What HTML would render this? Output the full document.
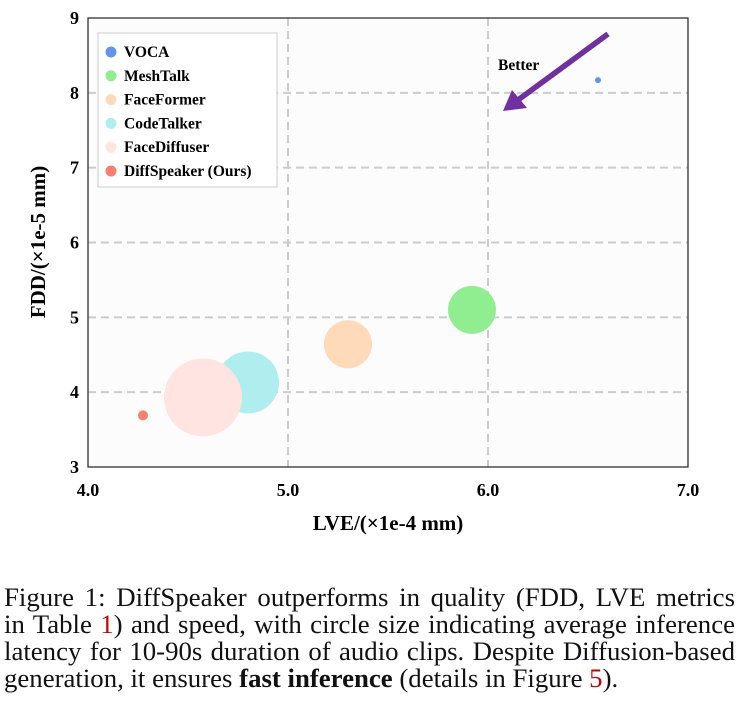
<!DOCTYPE html>
<html><head><meta charset="utf-8"><style>
body{margin:0;background:#fff;width:740px;height:703px;overflow:hidden;font-family:"Liberation Serif",serif}
#cap{position:absolute;left:4px;top:584px;width:731px;font-size:26.8px;line-height:27px;color:#111}
#cap div{text-align:justify;text-align-last:justify;white-space:nowrap}
#cap div.last{text-align-last:left}
</style></head><body>
<svg id="chart" width="740" height="560" style="position:absolute;left:0;top:0" font-family="Liberation Serif, serif"></svg>
<div id="cap">
<div>Figure 1: DiffSpeaker outperforms in quality (FDD, LVE metrics</div>
<div>in Table <span style="color:#c00">1</span>) and speed, with circle size indicating average inference</div>
<div>latency for 10-90s duration of audio clips. Despite Diffusion-based</div>
<div class="last">generation, it ensures <b>fast inference</b> (details in Figure <span style="color:#c00">5</span>).</div>
</div>
<script>
const methods=["VOCA","MeshTalk","FaceFormer","CodeTalker","FaceDiffuser","DiffSpeaker (Ours)"];
const lve=[6.55,5.92,5.30,4.80,4.575,4.275];
const fdd=[8.17,5.10,4.64,4.13,3.93,3.69];
const radius=[3,24,24,31,39,5];
const colors=["#6495ed","#90ee90","#ffdab9","#afeeee","#ffe4e1","#f87f6f"];
const xTicks=[4,5,6,7];
const xTickLabels=["4.0","5.0","6.0","7.0"];
const yTicks=[3,4,5,6,7,8,9];
const NS="http://www.w3.org/2000/svg";
const svg=document.getElementById('chart');
const L=88,R=688,T=18,B=467;
const xs=v=>L+(v-4)/3*(R-L);
const ys=v=>B-(v-3)/6*(B-T);
function mk(t,a,p){const e=document.createElementNS(NS,t);for(const k in a)e.setAttribute(k,a[k]);(p||svg).appendChild(e);return e;}
const bg=mk('rect',{x:L,y:T,width:R-L,height:B-T,fill:'#fcfcfc'});


xTicks.forEach((v,i)=>{
 if(i>0&&i<xTicks.length-1){const g=mk('line',{x1:xs(v),x2:xs(v),y1:T,y2:B,stroke:'#ccc','stroke-width':2,'stroke-dasharray':'8,5'});
 
 }
 const t=mk('text',{x:xs(v),y:B+29,'text-anchor':'middle','font-size':18,'font-weight':'bold'});t.textContent=xTickLabels[i];
 
 
});
yTicks.forEach((v,i)=>{
 if(i>0&&i<yTicks.length-1){const g=mk('line',{x1:L,x2:R,y1:ys(v),y2:ys(v),stroke:'#ccc','stroke-width':2,'stroke-dasharray':'8,5'});
 
 }
 const t=mk('text',{x:L-9,y:ys(v)+6,'text-anchor':'end','font-size':18,'font-weight':'bold'});t.textContent=v;
 
 
});
methods.forEach((m,i)=>{
 const c=mk('circle',{cx:xs(lve[i]),cy:ys(fdd[i]),r:radius[i],fill:colors[i]});
 
 
});
const fr=mk('rect',{x:L,y:T,width:R-L,height:B-T,fill:'none',stroke:'#222','stroke-width':1.2});


const lg=mk('g',{});


mk('rect',{x:98,y:33,width:179,height:154,fill:'#fff',stroke:'#ccc','stroke-width':1},lg);
methods.forEach((m,i)=>{
 const y=52+i*23.8;
 const e=mk('g',{},lg);
 
 
 mk('circle',{cx:111,cy:y,r:5.5,fill:colors[i]},e);
 const t=mk('text',{x:124,y:y+5,'font-size':15.5,'font-weight':'bold'},e);t.textContent=m;
});
const ar=mk('g',{});


mk('line',{x1:608,y1:34,x2:518,y2:100,stroke:'#7030a0','stroke-width':5.5},ar);
mk('polygon',{points:'503,111 512,90 527,108',fill:'#7030a0'},ar);
const bt=mk('text',{x:498,y:70,'font-size':15.5,'font-weight':'bold'});bt.textContent='Better';


const xl=mk('text',{x:388,y:530,'text-anchor':'middle','font-size':21,'font-weight':'bold'});xl.textContent='LVE/(×1e-4 mm)';


const yl=mk('text',{x:0,y:0,'text-anchor':'middle','font-size':21,'font-weight':'bold',transform:'translate(45,242) rotate(-90)'});yl.textContent='FDD/(×1e-5 mm)';


</script>
</body></html>
